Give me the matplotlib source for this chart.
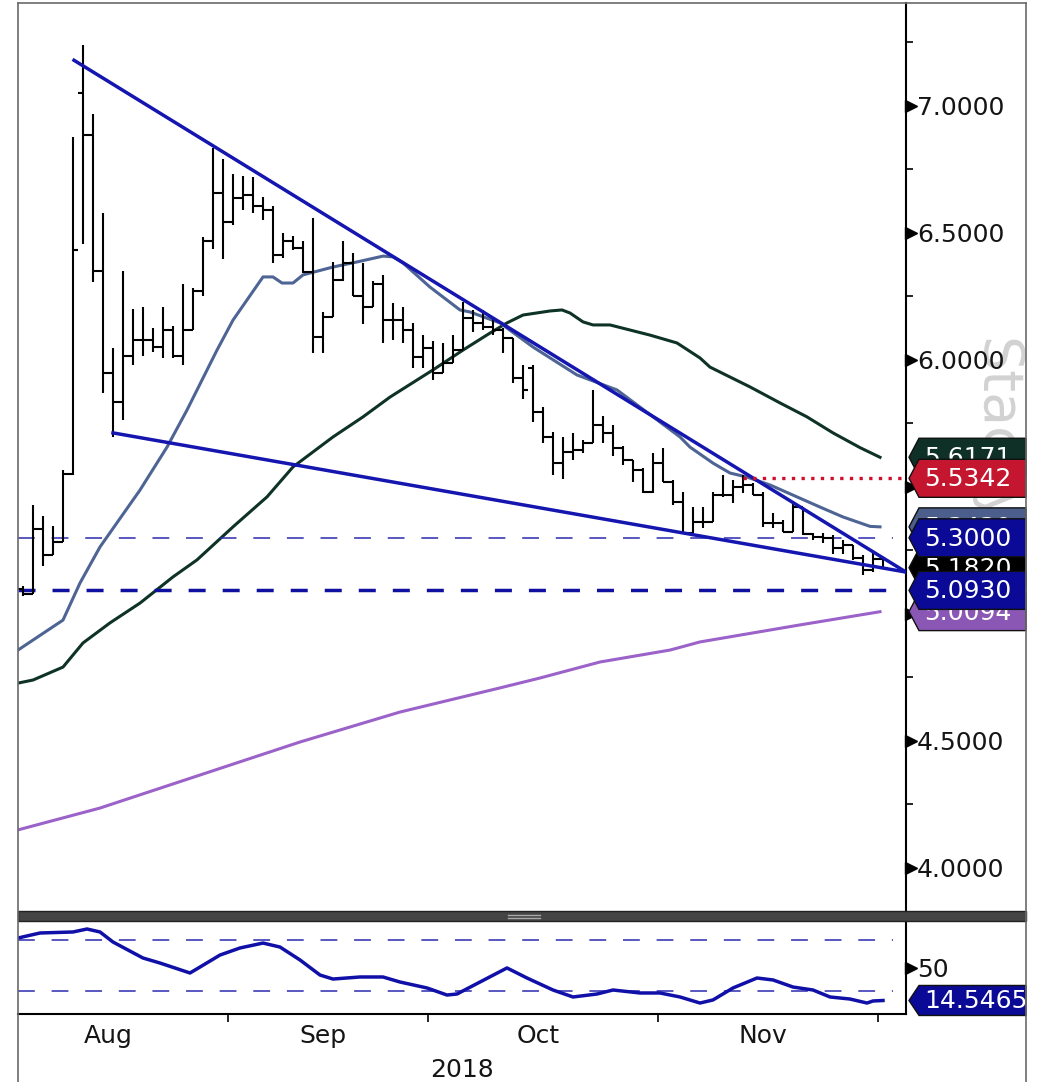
import numpy as np
import pandas as pd
import matplotlib
matplotlib.use("Agg")
import matplotlib.pyplot as plt
import matplotlib.transforms as mtransforms
from matplotlib.patches import Polygon, Rectangle
from matplotlib.lines import Line2D

plt.rcParams['font.family'] = ['DejaVu Sans']

# x positions are business-day numbers counted from 1 Aug 2018
start = np.datetime64('2018-08-01')
bar_dates = pd.bdate_range('2018-08-03', periods=87)

opens = [5.10, 5.08, 5.334, 5.231, 5.282, 5.553, 7.05, 6.884, 6.35, 5.95,
         5.835, 6.017, 6.08, 6.08, 6.05, 6.12, 6.017, 6.12, 6.27, 6.467,
         6.658, 6.544, 6.636, 6.65, 6.606, 6.59, 6.413, 6.47, 6.44, 6.346,
         6.09, 6.17, 6.315, 6.38, 6.25, 6.21, 6.30, 6.157, 6.157, 6.118,
         6.01, 6.047, 5.95, 5.99, 6.04, 6.165, 6.146, 6.13, 6.118, 6.087,
         5.929, 5.97, 5.795, 5.697, 5.594, 5.638, 5.646, 5.673, 5.744, 5.713,
         5.654, 5.606, 5.567, 5.48, 5.594, 5.52, 5.44, 5.319, 5.362, 5.362,
         5.468, 5.468, 5.50, 5.508, 5.468, 5.358, 5.358, 5.323, 5.42, 5.315,
         5.303, 5.30, 5.26, 5.272, 5.22, 5.173, 5.217]
highs = [5.11, 5.43, 5.385, 5.348, 5.568, 6.877, 7.24, 6.968, 6.58, 6.046,
         6.35, 6.20, 6.207, 6.124, 6.207, 6.134, 6.30, 6.285, 6.485, 6.836,
         6.79, 6.734, 6.724, 6.72, 6.64, 6.606, 6.50, 6.49, 6.47, 6.56,
         6.19, 6.386, 6.47, 6.42, 6.38, 6.31, 6.335, 6.224, 6.21, 6.145,
         6.10, 6.075, 6.067, 6.10, 6.228, 6.197, 6.197, 6.17, 6.126, 6.087,
         5.98, 5.98, 5.815, 5.717, 5.697, 5.713, 5.685, 5.882, 5.78, 5.744,
         5.66, 5.606, 5.575, 5.634, 5.654, 5.528, 5.48, 5.42, 5.42, 5.48,
         5.547, 5.528, 5.547, 5.516, 5.48, 5.398, 5.37, 5.437, 5.42, 5.319,
         5.319, 5.311, 5.291, 5.272, 5.232, 5.244, 5.217]
lows = [5.07, 5.078, 5.187, 5.231, 5.282, 5.546, 6.456, 6.309, 5.87, 5.695,
        5.762, 5.98, 6.014, 6.03, 6.007, 6.007, 5.98, 6.12, 6.25, 6.438,
        6.397, 6.533, 6.592, 6.58, 6.551, 6.382, 6.40, 6.433, 6.343, 6.028,
        6.028, 6.17, 6.31, 6.25, 6.14, 6.21, 6.067, 6.08, 6.067, 5.97,
        5.97, 5.92, 5.95, 5.99, 6.04, 6.11, 6.118, 6.10, 6.028, 5.91,
        5.846, 5.756, 5.673, 5.547, 5.53, 5.606, 5.634, 5.673, 5.673, 5.622,
        5.587, 5.52, 5.476, 5.476, 5.52, 5.43, 5.319, 5.319, 5.34, 5.362,
        5.46, 5.437, 5.476, 5.468, 5.343, 5.34, 5.323, 5.323, 5.311, 5.291,
        5.28, 5.236, 5.236, 5.213, 5.154, 5.165, 5.18]
closes = [5.08, 5.334, 5.231, 5.282, 5.553, 6.434, 6.884, 6.35, 5.95, 5.835,
          6.017, 6.08, 6.08, 6.05, 6.12, 6.017, 6.12, 6.27, 6.467, 6.658,
          6.544, 6.636, 6.65, 6.606, 6.59, 6.413, 6.47, 6.44, 6.346, 6.09,
          6.17, 6.315, 6.38, 6.25, 6.21, 6.30, 6.157, 6.157, 6.118, 6.01,
          6.047, 5.95, 5.99, 6.04, 6.165, 6.146, 6.13, 6.118, 6.087, 5.929,
          5.88, 5.795, 5.697, 5.594, 5.638, 5.646, 5.673, 5.744, 5.713, 5.654,
          5.606, 5.567, 5.48, 5.594, 5.52, 5.44, 5.319, 5.362, 5.362, 5.468,
          5.468, 5.50, 5.508, 5.468, 5.358, 5.358, 5.323, 5.42, 5.315, 5.303,
          5.30, 5.26, 5.272, 5.22, 5.173, 5.217, 5.182]

# moving averages
ma_short_x = [1.5, 6.0, 7.7, 9.7, 13.7, 16.4, 18.4, 21.4, 23.0, 26.0, 27.0, 27.9,
              29.0, 30.0, 33.0, 35.4, 38.0, 39.0, 40.0, 42.7, 45.7, 46.7, 49.7,
              53.0, 57.4, 61.4, 67.7, 68.7, 71.0, 72.7, 74.4, 76.7, 79.4, 81.7,
              84.0, 86.7, 87.7]
ma_short_y = [4.858, 4.976, 5.122, 5.264, 5.488, 5.657, 5.803, 6.039, 6.157, 6.327,
              6.327, 6.303, 6.303, 6.335, 6.366, 6.386, 6.409, 6.406, 6.382, 6.287,
              6.197, 6.189, 6.146, 6.051, 5.941, 5.882, 5.697, 5.657, 5.594, 5.555,
              5.539, 5.508, 5.461, 5.421, 5.382, 5.345, 5.343]
ma_mid_x = [1.5, 3.0, 6.0, 8.0, 10.7, 13.7, 17.0, 19.4, 23.0, 26.4, 29.0, 33.0,
            36.0, 38.7, 43.0, 46.0, 48.7, 50.4, 52.0, 54.7, 55.9, 56.7, 58.0, 59.0,
            60.7, 64.7, 67.4, 69.7, 70.7, 74.7, 77.7, 80.4, 83.0, 85.7, 87.7]
ma_mid_y = [4.728, 4.740, 4.791, 4.886, 4.965, 5.043, 5.146, 5.213, 5.343, 5.461,
            5.579, 5.697, 5.776, 5.854, 5.961, 6.039, 6.106, 6.146, 6.177, 6.193,
            6.197, 6.185, 6.150, 6.138, 6.138, 6.098, 6.067, 6.008, 5.972, 5.894,
            5.831, 5.776, 5.713, 5.655, 5.617]
ma_long_x = [1.5, 9.7, 19.7, 29.7, 39.7, 49.7, 53.7, 59.7, 66.7, 69.7, 79.7, 87.7]
ma_long_y = [4.150, 4.236, 4.366, 4.496, 4.614, 4.709, 4.748, 4.811, 4.858, 4.890,
             4.957, 5.009]

# trend lines and levels
upper_x = [7.1, 90.3]
upper_y = [7.18, 5.165]
lower_x = [11.0, 90.3]
lower_y = [5.713, 5.165]
level_thin = 5.30
level_thick = 5.093
level_red = 5.5342
level_red_from = 74

# lower panel oscillator
rsi_x = [1.5, 3.7, 7.0, 8.4, 9.7, 11.0, 14.0, 15.7, 18.7, 19.7, 21.7, 23.7, 26.0,
         27.7, 29.7, 31.7, 33.0, 35.7, 38.0, 39.7, 42.4, 44.4, 45.4, 47.7, 50.4,
         52.4, 55.0, 57.0, 59.4, 61.0, 63.7, 65.7, 67.7, 69.7, 71.0, 73.0, 75.4,
         77.0, 79.0, 81.0, 82.7, 84.7, 86.4, 87.0, 88.0]
rsi_v = [81.7, 87.1, 88.2, 91.4, 88.2, 77.4, 60.2, 54.8, 44.1, 50.5, 63.4, 71.0, 76.3,
         72.0, 58.1, 41.9, 37.6, 39.8, 39.8, 34.4, 28.0, 20.4, 21.5, 34.4, 49.5,
         38.7, 25.8, 18.3, 21.5, 25.8, 22.6, 22.6, 18.3, 11.8, 15.1, 28.0, 38.7,
         36.6, 29.0, 25.8, 18.3, 16.1, 11.8, 14.0, 14.5]
rsi_levels = [80, 25]

price_ticks = [4.0, 4.5, 5.0, 5.5, 6.0, 6.5, 7.0]
price_labels = ['4.0000', '4.5000', '', '', '6.0000', '6.5000', '7.0000']
minor_ticks = [4.25, 4.75, 5.25, 5.75, 6.25, 6.75, 7.25]
months = ['Aug', 'Sep', 'Oct', 'Nov']
month_starts = ['2018-08-01', '2018-09-01', '2018-10-01', '2018-11-01', '2018-12-01']

# right-hand value tags: (value, text, colour), in drawing order
tags = [(5.6171, '5.6171', '#0e3026'),
        (5.343, '5.3430', '#4b5e8c'),
        (5.182, '5.1820', '#000000'),
        (5.0094, '5.0094', '#8b57b5'),
        (5.5342, '5.5342', '#c5162f'),
        (5.30, '5.3000', '#0a0a96'),
        (5.093, '5.0930', '#0a0a96')]
rsi_tag = (14.5465, '14.5465', '#0a0a96')

W, H = 1038, 1082
FS = 18
fig = plt.figure(figsize=(W / 100, H / 100), dpi=100)


def frac(x0, y0, x1, y1):
    return [x0 / W, 1 - y1 / H, (x1 - x0) / W, (y1 - y0) / H]


ax = fig.add_axes(frac(18, 3, 906, 910))
ax2 = fig.add_axes(frac(18, 921, 906, 1014))
xlim = (1.5, 90.3)

xs = np.busday_count(start, bar_dates.values.astype('datetime64[D]'))
bounds = [np.busday_count(start, np.datetime64(m)) - 0.5 for m in month_starts]
centers = [(bounds[i] + bounds[i + 1]) / 2 - 0.5 for i in range(4)]

# --- main panel ---
ax.plot(ma_long_x, ma_long_y, color='#9b62c9', lw=2.2, zorder=2)
ax.plot(ma_mid_x, ma_mid_y, color='#0e3326', lw=2.2, zorder=2)
ax.plot(ma_short_x, ma_short_y, color='#4d6494', lw=2.2, zorder=2)
ax.vlines(xs, lows, highs, color='black', lw=1.5, zorder=3)
ax.hlines(closes, xs, xs + 0.5, color='black', lw=1.5, zorder=3)
ax.hlines(opens, xs - 0.5, xs, color='black', lw=1.5, zorder=3)
ax.plot(upper_x, upper_y, color='#1515b0', lw=2.5, zorder=4)
ax.plot(lower_x, lower_y, color='#1515b0', lw=2.5, zorder=4)
ax.plot([xlim[0], 89], [level_thin] * 2, color='#2a2ab0', lw=1.1, ls=(0, (11, 11)), zorder=2)
ax.plot([xlim[0], 89], [level_thick] * 2, color='#1010a0', lw=2.5, ls=(0, (4.9, 4.9)), zorder=2)
ax.plot([level_red_from, xlim[1]], [level_red] * 2, color='#d0102a', lw=2.4,
        ls=(0, (1.0, 1.9)), zorder=4)

ax.set_xlim(*xlim)
ax.set_ylim(3.8346, 7.4055)
ax.set_xticks([])
ax.yaxis.tick_right()
ax.set_yticks(price_ticks)
ax.set_yticklabels(price_labels, fontsize=FS, color='#151515')
ax.set_yticks(minor_ticks, minor=True)
ax.tick_params(axis='y', which='major', length=0, pad=8)
ax.tick_params(axis='y', which='minor', length=5, width=1.2, direction='out', color='black')
for s in ['left', 'top', 'bottom']:
    ax.spines[s].set_visible(False)
ax.spines['right'].set_linewidth(1.5)
tr = mtransforms.blended_transform_factory(ax.transAxes, ax.transData)
ax.plot([1 + 5 / 888] * len(price_ticks), price_ticks, ls='none', marker='>', ms=8,
        color='black', transform=tr, clip_on=False, zorder=5)

ax.text(995, H - 432, 'Stacey', rotation=-90, fontsize=40, color='#d2d2d2',
        ha='center', va='center', transform=mtransforms.IdentityTransform(),
        clip_on=False, zorder=1)

# --- lower panel ---
ax2.plot(rsi_x, rsi_v, color='#1010a8', lw=2.5, zorder=3)
for lv in rsi_levels:
    ax2.plot([xlim[0], 89], [lv, lv], color='#2a2ab0', lw=1.1, ls=(0, (11, 11)), zorder=2)
ax2.set_xlim(*xlim)
ax2.set_ylim(0, 100)
ax2.yaxis.tick_right()
ax2.set_yticks([50])
ax2.set_yticklabels(['50'], fontsize=FS, color='#151515')
ax2.tick_params(axis='y', length=0, pad=8)
tr2 = mtransforms.blended_transform_factory(ax2.transAxes, ax2.transData)
ax2.plot([1 + 5 / 888], [50], ls='none', marker='>', ms=8, color='black',
         transform=tr2, clip_on=False, zorder=5)
ax2.set_xticks(centers)
ax2.set_xticklabels(months, fontsize=FS, color='#151515')
ax2.set_xticks(bounds[1:], minor=True)
ax2.tick_params(axis='x', which='major', length=0, pad=7)
ax2.tick_params(axis='x', which='minor', length=6, width=1.2, direction='out', color='black')
for s in ['left', 'top']:
    ax2.spines[s].set_visible(False)
ax2.spines['right'].set_linewidth(1.5)
ax2.spines['bottom'].set_linewidth(1.5)
fig.text(462 / W, 1 - 1070 / H, '2018', ha='center', va='center', fontsize=FS, color='#151515')

# --- overlay: tags, separator, frame ---
ov = fig.add_axes([0, 0, 1, 1])
ov.set_xlim(0, W)
ov.set_ylim(H, 0)
ov.axis('off')
ov.patch.set_alpha(0)
ov.set_zorder(10)


def tag(axis, value, text, color, z, half=19):
    c = H - axis.transData.transform((axis.get_xlim()[0], value))[1]
    pts = [(909, c), (919, c - half), (1026, c - half), (1026, c + half), (919, c + half)]
    ov.add_patch(Polygon(pts, closed=True, facecolor=color, edgecolor='#101010',
                         lw=1, zorder=z))
    ov.text(924, c + 1, text, color='white', fontsize=FS, ha='left', va='center',
            zorder=z + 0.5)


for i, (v, t, c) in enumerate(tags):
    tag(ax, v, t, c, 2 + i)
tag(ax2, rsi_tag[0], rsi_tag[1], rsi_tag[2], 2, half=15)

ov.add_patch(Rectangle((18, 911), 1008, 10, facecolor='#444444', edgecolor='#222222',
                       lw=1, zorder=15))
ov.plot([508, 540], [914.5, 914.5], color='#a8a8a8', lw=1, zorder=16)
ov.plot([508, 540], [917.5, 917.5], color='#a8a8a8', lw=1, zorder=16)
for xx, yy in [([18, 18], [3, H]), ([1026, 1026], [3, H]), ([18, 1026], [3, 3])]:
    ov.add_line(Line2D(xx, yy, color='#6a6a6a', lw=1.2, zorder=20))

fig.savefig('out.png', dpi=100)
